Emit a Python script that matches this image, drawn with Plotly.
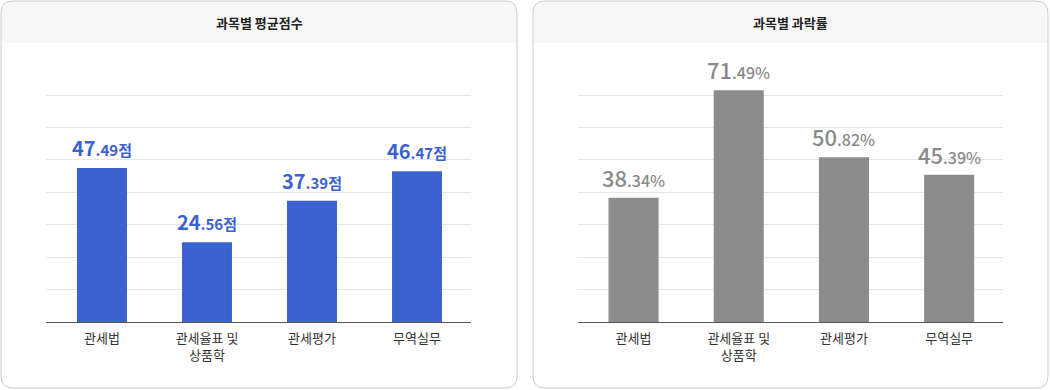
import plotly.graph_objects as go

categories = ["관세법", "관세율표 및<br>상품학", "관세평가", "무역실무"]
avg_scores = [47.49, 24.56, 37.39, 46.47]
fail_rates = [38.34, 71.49, 50.82, 45.39]
titles = ["과목별 평균점수", "과목별 과락률"]
grid_ticks = [0, 10, 20, 30, 40, 50, 60, 70]

W, H = 1050, 390
FONT = "Noto Sans CJK KR"
BLUE = "#3b62d0"
GRAY = "#8c8c8c"
LABEL_GRAY = "#8a8a8a"


def split_label(v, unit, big, small):
    s = f"{v:.2f}"
    i, d = s.split(".")
    return (f"<span style='font-size:{big}px'>{i}</span>"
            f"<span style='font-size:{small}px'>.{d}{unit}</span>")


def px(x):
    return x / W


def py(y):
    return 1 - y / H


fig = go.Figure()
fig.add_trace(go.Bar(
    x=categories, y=avg_scores, xaxis="x", yaxis="y",
    marker=dict(color=BLUE, line=dict(width=0)),
    width=0.476, hoverinfo="skip",
))
fig.add_trace(go.Bar(
    x=categories, y=fail_rates, xaxis="x2", yaxis="y2",
    marker=dict(color=GRAY, line=dict(width=0)),
    width=0.476, hoverinfo="skip",
))

base_y = 322
unit_px = (322 - 95) / 70.0
ymax = 80
top_y = base_y - ymax * unit_px
ydom = [py(base_y), py(top_y)]

yax = dict(range=[0, ymax], domain=ydom, tickvals=grid_ticks, showticklabels=False,
           gridcolor="#e6e6e6", gridwidth=1, zeroline=False, showline=False, fixedrange=True)
xax = dict(showline=True, linecolor="#555555", linewidth=1, ticks="",
           ticklabelstandoff=4,
           tickfont=dict(family=FONT, size=13, color="#333333"), fixedrange=True)

fig.update_layout(
    width=W, height=H,
    margin=dict(l=0, r=0, t=0, b=0),
    paper_bgcolor="white", plot_bgcolor="rgba(0,0,0,0)",
    showlegend=False,
    font=dict(family=FONT),
    xaxis=dict(xax, domain=[px(46), px(471)], range=[-0.533, 3.514], anchor="y"),
    yaxis=dict(yax, anchor="x"),
    xaxis2=dict(xax, domain=[px(578), px(1003)], range=[-0.528, 3.512], anchor="y2"),
    yaxis2=dict(yax, anchor="x2"),
)

shapes = []
annotations = []

# value labels
for c, v in zip(categories, avg_scores):
    annotations.append(dict(x=c, y=v, xref="x", yref="y", showarrow=False,
                            text=split_label(v, "점", 20, 15), xanchor="center",
                            yanchor="bottom", yshift=4,
                            font=dict(family=FONT, size=15, color=BLUE, weight=700)))
for c, v in zip(categories, fail_rates):
    annotations.append(dict(x=c, y=v, xref="x2", yref="y2", showarrow=False,
                            text=split_label(v, "%", 22, 16), xanchor="center",
                            yanchor="bottom", yshift=3,
                            font=dict(family=FONT, size=16, color=LABEL_GRAY, weight=500)))

# panels
panels = [(1, 517), (533, 1048)]
y0, y1, hy, r = 1, 388, 43, 12
for (x0, x1), t in zip(panels, titles):
    hpath = (f"M {px(x0)},{py(hy)} L {px(x0)},{py(y0 + r)} "
             f"Q {px(x0)},{py(y0)} {px(x0 + r)},{py(y0)} "
             f"L {px(x1 - r)},{py(y0)} Q {px(x1)},{py(y0)} {px(x1)},{py(y0 + r)} "
             f"L {px(x1)},{py(hy)} Z")
    shapes.append(dict(type="path", xref="paper", yref="paper", path=hpath,
                       fillcolor="#f7f7f7", line=dict(width=0), layer="below"))
    bpath = (f"M {px(x0)},{py(y0 + r)} Q {px(x0)},{py(y0)} {px(x0 + r)},{py(y0)} "
             f"L {px(x1 - r)},{py(y0)} Q {px(x1)},{py(y0)} {px(x1)},{py(y0 + r)} "
             f"L {px(x1)},{py(y1 - r)} Q {px(x1)},{py(y1)} {px(x1 - r)},{py(y1)} "
             f"L {px(x0 + r)},{py(y1)} Q {px(x0)},{py(y1)} {px(x0)},{py(y1 - r)} Z")
    shapes.append(dict(type="path", xref="paper", yref="paper", path=bpath,
                       line=dict(color="#cccccc", width=1), layer="above"))
    annotations.append(dict(text=f"<b>{t}</b>", x=px((x0 + x1) / 2), y=py(22),
                            xref="paper", yref="paper", showarrow=False,
                            xanchor="center", yanchor="middle",
                            font=dict(family=FONT, size=13, color="#222222")))

fig.update_layout(shapes=shapes, annotations=annotations)
fig.write_html("out.html", config={"displayModeBar": False},
               post_script="document.body.style.margin='0';document.body.style.overflow='hidden';")
